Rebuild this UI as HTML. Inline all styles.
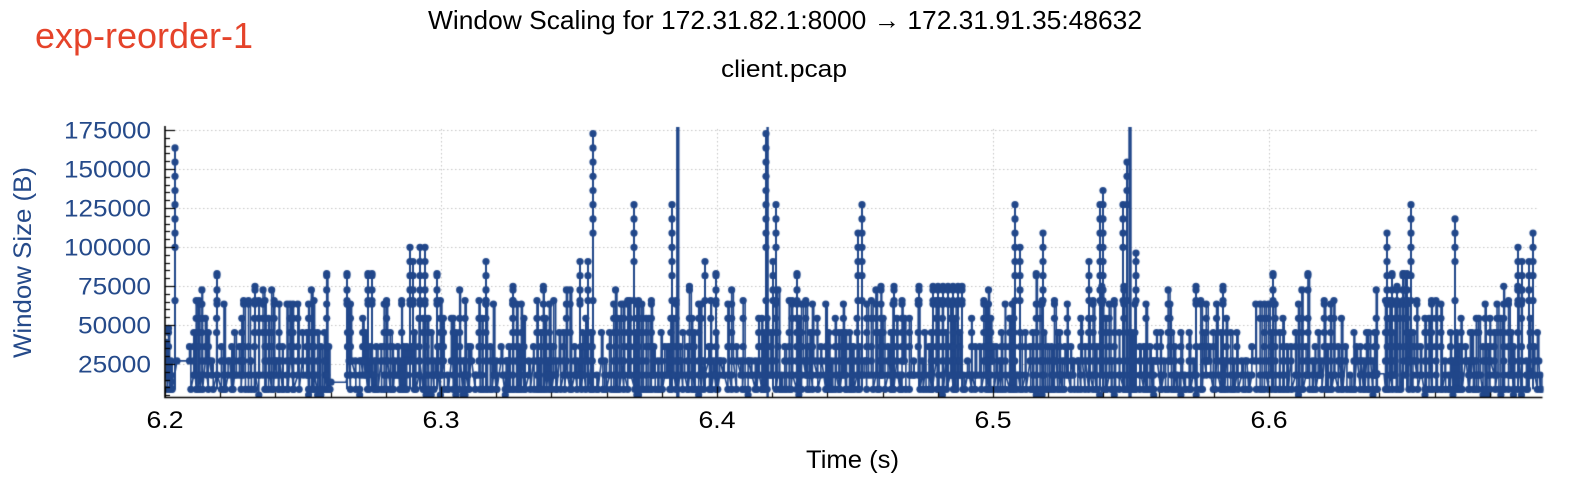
<!DOCTYPE html>
<html>
<head>
<meta charset="utf-8">
<style>
html,body{margin:0;padding:0;background:#fff;overflow:hidden;}
#wrap{position:relative;width:1570px;height:482px;background:#fff;}
#c{position:absolute;left:0;top:0;width:1570px;height:482px;}
#t{position:absolute;left:0;top:0;}
</style>
</head>
<body>
<div id="wrap">
<canvas id="c" width="1570" height="482"></canvas>
<svg id="t" width="1570" height="482" font-family="'Liberation Sans', Arial, sans-serif">
  <text x="35" y="48" font-size="36" fill="#e5432a" textLength="218" lengthAdjust="spacingAndGlyphs">exp-reorder-1</text>
  <text x="785" y="29" font-size="26" fill="#000" text-anchor="middle" textLength="714" lengthAdjust="spacingAndGlyphs">Window Scaling for 172.31.82.1:8000 → 172.31.91.35:48632</text>
  <text x="784" y="77" font-size="24" fill="#000" text-anchor="middle" textLength="126" lengthAdjust="spacingAndGlyphs">client.pcap</text>

  <g font-size="24" fill="#254a8a" text-anchor="end">
    <text x="151" y="138.5" textLength="87" lengthAdjust="spacingAndGlyphs">175000</text>
    <text x="151" y="177.5" textLength="87" lengthAdjust="spacingAndGlyphs">150000</text>
    <text x="151" y="216.5" textLength="87" lengthAdjust="spacingAndGlyphs">125000</text>
    <text x="151" y="255.5" textLength="87" lengthAdjust="spacingAndGlyphs">100000</text>
    <text x="151" y="294.5" textLength="73" lengthAdjust="spacingAndGlyphs">75000</text>
    <text x="151" y="333.5" textLength="73" lengthAdjust="spacingAndGlyphs">50000</text>
    <text x="151" y="372.5" textLength="73" lengthAdjust="spacingAndGlyphs">25000</text>
  </g>
  <text transform="translate(31,262.5) rotate(-90)" font-size="25" fill="#254a8a" text-anchor="middle" textLength="191" lengthAdjust="spacingAndGlyphs">Window Size (B)</text>

  <g font-size="24" fill="#000" text-anchor="middle">
    <text x="165" y="428" textLength="37" lengthAdjust="spacingAndGlyphs">6.2</text>
    <text x="441" y="428" textLength="37" lengthAdjust="spacingAndGlyphs">6.3</text>
    <text x="717" y="428" textLength="37" lengthAdjust="spacingAndGlyphs">6.4</text>
    <text x="993" y="428" textLength="37" lengthAdjust="spacingAndGlyphs">6.5</text>
    <text x="1269" y="428" textLength="37" lengthAdjust="spacingAndGlyphs">6.6</text>
  </g>
  <text x="852.5" y="468" font-size="25" fill="#000" text-anchor="middle" textLength="93" lengthAdjust="spacingAndGlyphs">Time (s)</text>
</svg>
</div>
<script>
(function(){
const cv=document.getElementById('c');
const g=cv.getContext('2d');
const X0=165, X1=1539, YT=127, YB=397.5;
const C='#21478a';
const Yv=v=>403-v*0.00156;
const Yk=k=>389.3-14.2*(k-1);

// grid
g.lineWidth=1; g.strokeStyle='#c4c4c4'; g.setLineDash([1.5,2.5]);
for(let i=1;i<=7;i++){const y=Math.round(Yv(i*25000))+0.5; g.beginPath(); g.moveTo(X0+2,y); g.lineTo(X1,y); g.stroke();}
for(const x of [441,717,993,1269]){g.beginPath(); g.moveTo(x+0.5,129); g.lineTo(x+0.5,YB); g.stroke();}
g.setLineDash([]);

// PRNG
let s=987654321;
function r(){ s^=s<<13; s^=s>>>17; s^=s<<5; return (s>>>0)/4294967296; }

const pts=[], dots=[];
function pk(){
  const u=r();
  if(u<0.21) return 2+Math.floor(r()*2);
  if(u<0.54) return 4+Math.floor(r()*2);
  if(u<0.94){const v=r(); return v<0.35?6:(v<0.7?7:7.25);}
  if(u<0.975) return 8;
  return r()<0.5?8.25:9.15;
}
function tooth(x,kl,kp){
  pts.push([x,kl]); dots.push([x,kl]);
  for(let k=Math.ceil(kl+0.01);k<kp;k++){ if(r()<0.7) dots.push([x,k]); }
  pts.push([x,kp]); dots.push([x,kp]);
  const d=0.5+r()*1.5;
  const k2=r()<0.6?1:(r()<0.5?2:3);
  pts.push([x+d,kp]); pts.push([x+d,k2]); dots.push([x+d,k2]);
}

// start region
tooth(166,1.8,4.3); tooth(168.5,2,5.3); tooth(171,1,3);

const gaps=[[177,188,3],[331,346,1.5],[1377,1384,2.1]];
let x=179;
while(x<1541){
  const gp=gaps.find(q=>x>=q[0]&&x<q[1]);
  if(gp){pts.push([gp[0],gp[2]],[gp[1],gp[2]]); dots.push([gp[0],gp[2]]); x=gp[1]+1.5; continue;}
  const u=r(); const kl=u<0.55?1:(u<0.8?2:(u<0.92?3:0.6));
  tooth(x,kl,Math.max(kl+1,pk()));
  x+=1.6+r()*3.4;
}

const sp=[[175,18,11],[217,9.15,7],[255,8.25,7],[347,9.15,7],[368,9.15,7],[372,9.15,7],[410,11,7],[413,10,7],[420,11,7],[425,11,7],[437,9.15,7],[486,10,7],[513,8.25,7],[580,10,7],[588,10,8],[593,19,12],[634,14,10],[672,14,9],[705,10,9],[716,9.15,7],[766,19,11],[773,10,8],[776,14,11],[797,9.15,7],[858,12,9],[862,14,9],[894,8.25,7],[919,8.25,7],
[933,8.25,7],[938,8.25,7],[943,8.25,7],[948,8.25,7],[953,8.25,7],[958,8.25,7],[962,8.25,7],
[1015,14,9],[1020,11,8],[1043,12,8],[1089,10,8],[1100,14,8],[1103,15,8],[1123,14,11],[1127,17,14],[1136,10.6,8],[1196,8.25,7],[1223,8.25,7],[1273,9.15,7],[1387,12,7],[1392,9.15,7],[1397,8.25,7],[1403,9.15,7],[1407,9.15,7],[1411,14,9],[1455,13,10],[1518,11,9],[1522,10,8],[1529,10,8],[1533,12,9]];

g.save();
g.beginPath(); g.rect(X0+0.5,YT,X1-X0+4,YB-YT); g.clip();
g.strokeStyle=C; g.fillStyle=C; g.lineJoin='round';
g.lineWidth=1.6;
g.beginPath();
pts.forEach((p,i)=>{const X=p[0],Y=Yk(p[1]); if(i) g.lineTo(X,Y); else g.moveTo(X,Y);});
g.stroke();

// row of 74k
g.beginPath(); g.moveTo(933,Yk(8.25)); g.lineTo(962,Yk(8.25)); g.stroke();

g.lineWidth=2;
for(const q of sp){
  g.beginPath(); g.moveTo(q[0],Yk(1)); g.lineTo(q[0],Yk(q[1])); g.stroke();
  dots.push([q[0],q[1]]);
  for(let k=q[2];k<q[1];k++) dots.push([q[0],k]);
  dots.push([q[0],7.25]);
}
// clipped bars
for(const b of [[677.8,3.4],[767.6,2.4],[1130,3.4]]){
  g.fillRect(b[0]-b[1]/2,YT-5,b[1],YB-YT+5);
}
for(const d of dots){ g.beginPath(); g.arc(d[0],Yk(d[1]),3.6,0,Math.PI*2); g.fill(); }
g.restore();

// axes
g.strokeStyle='#000'; g.lineWidth=1.6;
g.beginPath(); g.moveTo(165,126); g.lineTo(165,398.3); g.moveTo(164.2,397.5); g.lineTo(1542.5,397.5); g.stroke();
g.lineWidth=1.2;
for(let v=5000; v<=175000; v+=5000){
  const y=Math.round(Yv(v))+0.5; const L=(v%25000===0)?10:5;
  g.beginPath(); g.moveTo(165,y); g.lineTo(165+L,y); g.stroke();
}
for(let i=0;i<=25;i++){
  const xx=Math.round(165+i*55.2)+0.5; if(xx>1542) break;
  const L=(i%5===0)?11:5;
  g.beginPath(); g.moveTo(xx,397.5); g.lineTo(xx,397.5-L); g.stroke();
}
})();
</script>
</body>
</html>
